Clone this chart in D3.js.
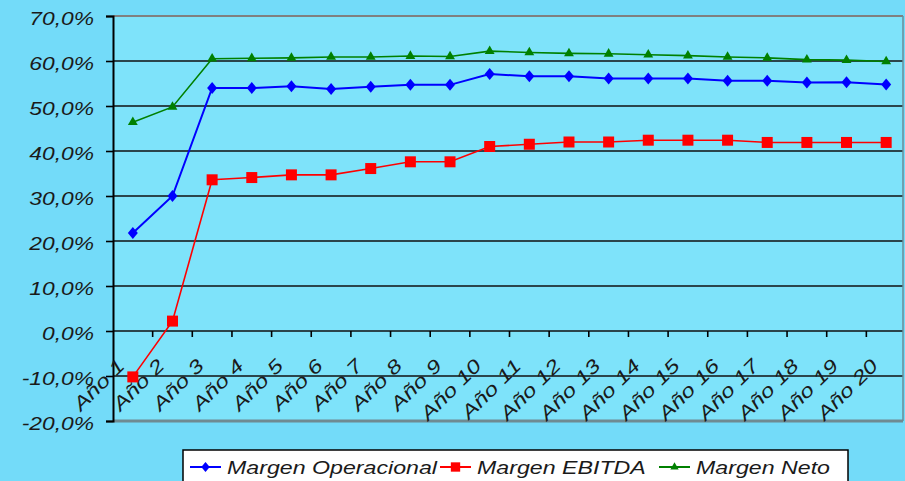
<!DOCTYPE html>
<html>
<head>
<meta charset="utf-8">
<script src="https://cdn.jsdelivr.net/npm/d3@7"></script>
<style>
  body { margin: 0; background: #73dbf9; }
  text { font-family: "Liberation Sans", Arial, sans-serif; font-style: italic; fill: #1a1a1a; }
</style>
</head>
<body>
<script>
'use strict';

// chart values
let years = ["1", "2", "3", "4", "5", "6", "7", "8", "9", "10",
             "11", "12", "13", "14", "15", "16", "17", "18", "19", "20"];
let operacional = [21.8, 30.0, 54.0, 54.0, 54.4, 53.8, 54.3, 54.7, 54.7, 57.1,
                   56.6, 56.6, 56.1, 56.1, 56.1, 55.6, 55.6, 55.2, 55.3, 54.8];
let ebitda = [-10.2, 2.2, 33.6, 34.1, 34.7, 34.7, 36.1, 37.6, 37.6, 41.0,
              41.5, 42.0, 42.0, 42.4, 42.4, 42.4, 41.9, 41.9, 41.9, 41.9];
let neto = [46.4, 49.8, 60.5, 60.6, 60.7, 60.9, 60.9, 61.1, 61.0, 62.2,
            61.9, 61.7, 61.6, 61.4, 61.2, 60.9, 60.7, 60.3, 60.2, 59.9];
let yTicks = [-20, -10, 0, 10, 20, 30, 40, 50, 60, 70];
let seriesNames = ["Margen Operacional", "Margen EBITDA", "Margen Neto"];

(function() {

  let width = 905, height = 481;
  let svg = d3.select('body').append('svg')
    .attr('width', width)
    .attr('height', height);

  // the picture is stretched sideways, so stretch the text too
  function widen(sel, k) {
    sel.each(function() {
      let len = this.getComputedTextLength();
      d3.select(this).attr('textLength', len * k).attr('lengthAdjust', 'spacingAndGlyphs');
    });
  }

  let plotLeft = 113, plotRight = 903, plotTop = 16, plotBottom = 421;

  let xScale = d3.scaleBand().domain(years).range([plotLeft, 906]);
  let yScale = d3.scaleLinear().domain([-20, 70]).range([plotBottom, plotTop]);

  // plot area
  svg.append('rect')
    .attr('x', plotLeft).attr('y', plotTop)
    .attr('width', plotRight - plotLeft).attr('height', plotBottom - plotTop)
    .attr('fill', '#7ee3fa');

  // gridlines
  svg.selectAll('.grid')
    .data(yTicks.filter(t => t > -20 && t < 70))
    .enter().append('line')
      .attr('x1', plotLeft).attr('x2', plotRight)
      .attr('y1', d => yScale(d)).attr('y2', d => yScale(d))
      .attr('stroke', '#111').attr('stroke-width', 1.6);

  // plot border: grey top, right, bottom
  svg.append('line').attr('x1', plotLeft).attr('x2', plotRight).attr('y1', plotTop).attr('y2', plotTop)
    .attr('stroke', '#808080').attr('stroke-width', 2);
  svg.append('line').attr('x1', plotRight).attr('x2', plotRight).attr('y1', plotTop).attr('y2', plotBottom)
    .attr('stroke', '#6a8e98').attr('stroke-width', 1.5);
  svg.append('line').attr('x1', plotLeft).attr('x2', plotRight).attr('y1', plotBottom).attr('y2', plotBottom)
    .attr('stroke', '#6f8a92').attr('stroke-width', 3);

  // y axis
  let yAxis = d3.axisLeft(yScale).tickValues(yTicks).tickSize(7).tickPadding(12)
    .tickFormat(d => d.toFixed(1).replace('.', ',') + '%');
  let yG = svg.append('g').attr('transform', `translate(${plotLeft}, 0)`).call(yAxis);
  yG.select('.domain').attr('stroke', '#000').attr('stroke-width', 2);
  yG.selectAll('.tick line').attr('stroke', '#000').attr('stroke-width', 1.6);
  yG.selectAll('.tick text')
    .attr('font-size', 19).attr('dy', '0.45em')
    .attr('fill', '#1a1a1a')
    .style('font-family', '"Liberation Sans", Arial, sans-serif').style('font-style', 'italic');
  widen(yG.selectAll('.tick text'), 1.2);

  // x axis at 0%, ticks between categories
  let boundaries = years.map(d => xScale(d)).slice(1)
    .concat([xScale(years[years.length - 1]) + xScale.bandwidth()]);
  svg.selectAll('.xtick')
    .data(boundaries)
    .enter().append('line')
      .attr('x1', d => d).attr('x2', d => d)
      .attr('y1', yScale(0)).attr('y2', yScale(0) + 6)
      .attr('stroke', '#000').attr('stroke-width', 1.6);

  // x labels, rotated
  let xLabels = svg.selectAll('.xlabel')
    .data(years)
    .enter().append('text')
      .attr('font-size', 19)
      .attr('text-anchor', 'end')
      .attr('transform', d => `translate(${xScale(d) + xScale.bandwidth() / 2 - 7}, ${yScale(0) + 36}) rotate(-45)`)
      .text(d => 'Año ' + d);
  widen(xLabels, 1.28);

  // series
  let series = [
    { name: seriesNames[0], values: operacional, color: '#0000ff', width: 2,
      shape: 'M0,-6L5,0L0,6L-5,0Z' },
    { name: seriesNames[1], values: ebitda, color: '#ff0000', width: 1.6,
      shape: 'M-5.5,-5.5H5.5V5.5H-5.5Z' },
    { name: seriesNames[2], values: neto, color: '#008000', width: 1.6,
      shape: d3.symbol(d3.symbolTriangle, 42)() }
  ];

  let line = d3.line()
    .x((d, i) => xScale(years[i]) + xScale.bandwidth() / 2)
    .y(d => yScale(d));

  series.slice().reverse().forEach(s => {
    svg.append('path')
      .attr('d', line(s.values))
      .attr('fill', 'none')
      .attr('stroke', s.color)
      .attr('stroke-width', s.width);
    svg.selectAll(null)
      .data(s.values)
      .enter().append('path')
        .attr('d', s.shape)
        .attr('transform', (d, i) => `translate(${xScale(years[i]) + xScale.bandwidth() / 2}, ${yScale(d)})`)
        .attr('fill', s.color);
  });

  // legend
  let legend = svg.append('g');
  legend.append('rect')
    .attr('x', 183).attr('y', 450)
    .attr('width', 665).attr('height', 45)
    .attr('fill', '#ffffff')
    .attr('stroke', '#000').attr('stroke-width', 1.5);

  let itemX = [190, 440, 659];
  series.forEach((s, i) => {
    let g = legend.append('g').attr('transform', `translate(${itemX[i]}, 467)`);
    g.append('line').attr('x1', 0).attr('x2', 31)
      .attr('stroke', s.color).attr('stroke-width', 2);
    g.append('path').attr('d', s.shape)
      .attr('transform', 'translate(15.5, 0) scale(0.85)')
      .attr('fill', s.color);
    let t = g.append('text')
      .attr('x', 37).attr('dy', '0.36em')
      .attr('font-size', 19)
      .text(s.name);
    widen(t, 1.22);
  });
})();
</script>
</body>
</html>
